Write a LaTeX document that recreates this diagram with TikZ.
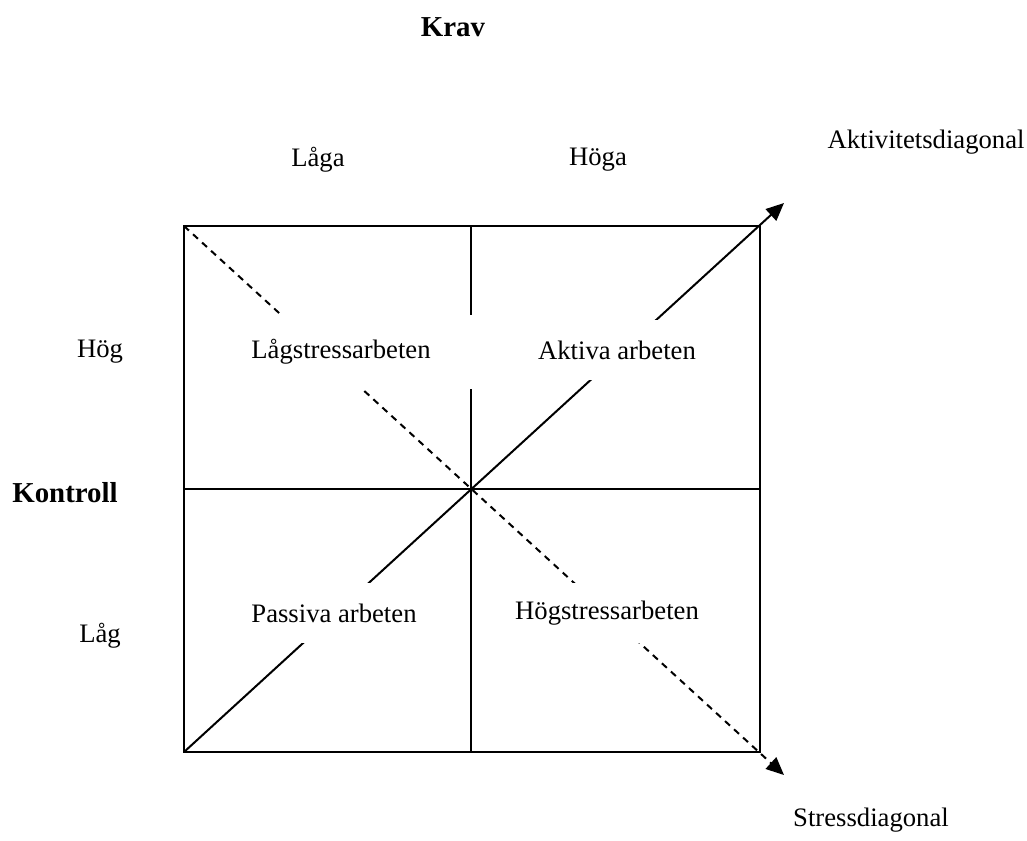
\documentclass[tikz,border=0pt]{standalone}
\usepackage{fontspec}
\setmainfont{Liberation Serif}
\usetikzlibrary{arrows.meta}

\begin{document}
\begin{tikzpicture}[x=0.45pt,y=-0.45pt,line width=0.9pt,
  cell/.style={fill=white,inner sep=0pt,minimum height=27pt},
  lbl/.style={font=\fontsize{12}{14}\selectfont},
  head/.style={font=\fontsize{13}{15}\selectfont\bfseries},
  tip/.style={-{Triangle[length=8pt,width=7pt]}}]
\useasboundingbox (0,0) rectangle (1027,840);
\coordinate (nw) at (184,226);
\coordinate (ne) at (760,226);
\coordinate (sw) at (184,752);
\coordinate (se) at (760,752);
\coordinate (n) at (471,226);
\coordinate (s) at (471,752);
\coordinate (w) at (184,489);
\coordinate (e) at (760,489);
\coordinate (akt) at (784,203);
\coordinate (str) at (784,775);
\draw (nw) rectangle (se);
\draw (n) -- (s);
\draw (w) -- (e);
\draw[tip] (sw) -- (akt);
\draw[tip,dash pattern=on 3pt off 2.5pt] (nw) -- (str);
\node[cell,lbl,minimum width=118.8pt,minimum height=33pt] (lagstress) at (341,352) {Lågstressarbeten};
\node[cell,lbl,minimum width=81pt] (aktiva) at (617,350) {Aktiva arbeten};
\node[cell,lbl,minimum width=85.5pt] (passiva) at (334,613) {Passiva arbeten};
\node[cell,lbl,minimum width=90pt] (hogstress) at (607,613) {Högstressarbeten};
\node[head] (krav) at (453,27) {Krav};
\node[lbl] (laga) at (318,160) {Låga};
\node[lbl] (hoga) at (598,160) {Höga};
\node[lbl] (aktdiag) at (926,142) {Aktivitetsdiagonal};
\node[lbl] (hog) at (100,352) {Hög};
\node[head] (kontroll) at (65,493) {Kontroll};
\node[lbl] (lag) at (100,636) {Låg};
\node[lbl] (strdiag) at (871,820) {Stressdiagonal};
\end{tikzpicture}
\end{document}
